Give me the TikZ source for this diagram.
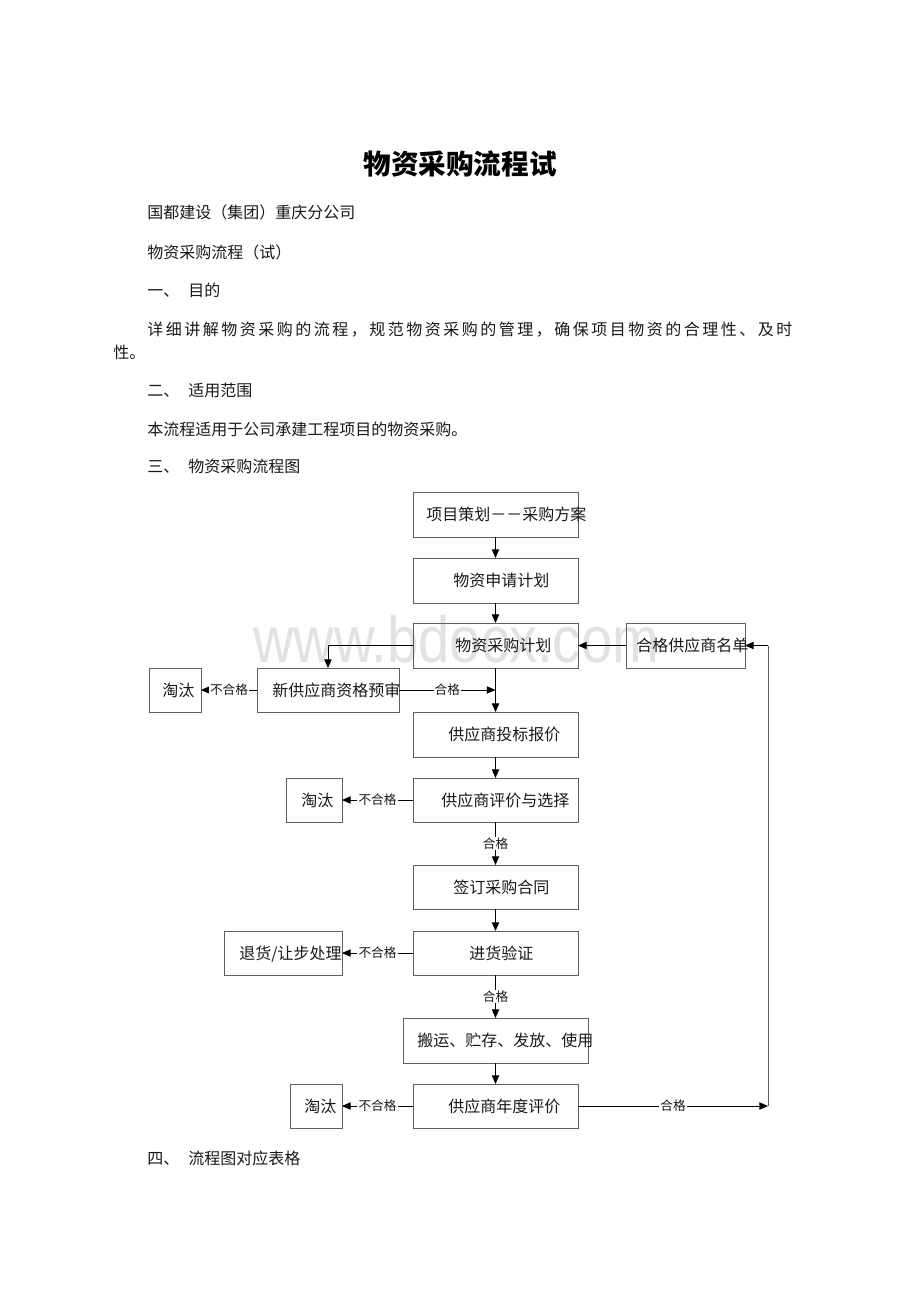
\documentclass[tikz,border=0pt]{standalone}
\usepackage{fontspec}
\setmainfont{Liberation Serif}
\newfontfamily\cjk{Noto Sans CJK SC}
\newfontfamily\wmfont{Liberation Sans}
\usetikzlibrary{arrows.meta}
\makeatletter
\def\spreadchars#1{\spr@a#1\spr@end}
\def\spr@end{\spr@end}
\def\spr@a#1{\ifx#1\spr@end\else#1\hskip0pt plus 1fil\expandafter\spr@a\fi}
\makeatother
\definecolor{boxline}{RGB}{95,95,95}
\definecolor{txt}{RGB}{25,25,25}
\definecolor{wm}{RGB}{226,226,226}
\tikzset{
  body/.style={anchor=base west, inner sep=0pt, text=txt, font=\cjk\fontsize{12pt}{14pt}\selectfont},
  btxt/.style={anchor=base west, inner sep=0pt, text=txt, font=\cjk\fontsize{12pt}{14pt}\selectfont},
  box/.style={draw=boxline, line width=0.7pt, inner sep=0pt, outer sep=0pt},
  bx/.style 2 args={box, minimum width=#1*0.75pt, minimum height=#2*0.75pt},
  conn/.style={draw=black, line width=0.7pt},
  arr/.style={conn, -{Triangle[length=6.5pt,width=5.5pt]}},
  lbl/.style={fill=white, inner sep=0.8pt, text=txt, font=\cjk\fontsize{9.5pt}{11pt}\selectfont}
}
\begin{document}
\begin{tikzpicture}[x=0.75pt,y=-0.75pt]
\fill[white] (0,0) rectangle (920,1302);
\useasboundingbox (0,0) rectangle (920,1302);

% watermark
\node[anchor=base west, inner sep=0pt, text=wm, xscale=0.86, font=\wmfont\fontsize{49pt}{50pt}\selectfont] (wmk) at (253,662) {www.bdocx.com};

% title and body text
\node[anchor=base, inner sep=0pt, text=black, font=\cjk\bfseries\fontsize{20.7pt}{24pt}\selectfont] (title) at (460,174.5) {物资采购流程试};
\node[body] (p1) at (147,219) {国都建设（集团）重庆分公司};
\node[body] (p2) at (147,258) {物资采购流程（试）};
\node[body] (p3) at (147,296) {一、\hspace{6.75pt}目的};
\node[body] (p4) at (147,335) {\hbox to 483.75pt{\spreadchars{详细讲解物资采购的流程，规范物资采购的管理，确保项目物资的合理性、及时}\unskip}};
\node[body] (p5) at (113,358) {性。};
\node[body] (p6) at (147,396) {二、\hspace{6.75pt}适用范围};
\node[body] (p7) at (147,435) {本流程适用于公司承建工程项目的物资采购。};
\node[body] (p8) at (147,472) {三、\hspace{6.75pt}物资采购流程图};
\node[body] (p9) at (147,1164) {四、\hspace{6.75pt}流程图对应表格};

% boxes
\node[bx={165}{45}] (A) at (495.5,514.5) {};
\node[bx={165}{45}] (B) at (495.5,580.5) {};
\node[bx={165}{45}] (C) at (495.5,645.5) {};
\node[bx={119}{45}] (D) at (685.5,645.5) {};
\node[bx={142}{44}] (E) at (328,690) {};
\node[bx={52}{44}]  (F) at (175,690) {};
\node[bx={165}{45}] (G) at (495.5,734.5) {};
\node[bx={165}{44}] (H) at (495.5,800) {};
\node[bx={56}{44}]  (I) at (314,800) {};
\node[bx={165}{44}] (J) at (495.5,887) {};
\node[bx={165}{44}] (K) at (495.5,953) {};
\node[bx={118}{44}] (L) at (283,953) {};
\node[bx={185}{45}] (M) at (495.5,1040.5) {};
\node[bx={165}{44}] (N) at (495.5,1106) {};
\node[bx={52}{44}]  (O) at (316,1106) {};

% box texts
\node[btxt] (At) at (426,520.5) {项目策划－－采购方案};
\node[btxt] (Bt) at (453,586.5) {物资申请计划};
\node[btxt] (Ct) at (455,651.5) {物资采购计划};
\node[btxt] (Dt) at (636,651.5) {合格供应商名单};
\node[btxt] (Et) at (272,696) {新供应商资格预审};
\node[btxt] (Ft) at (162,696) {淘汰};
\node[btxt] (Gt) at (448,740.5) {供应商投标报价};
\node[btxt] (Ht) at (441,806) {供应商评价与选择};
\node[btxt] (It) at (301,806) {淘汰};
\node[btxt] (Jt) at (453,893) {签订采购合同};
\node[btxt] (Kt) at (469,959) {进货验证};
\node[btxt] (Lt) at (239,959) {退货/让步处理};
\node[btxt] (Mt) at (417,1046.5) {搬运、贮存、发放、使用};
\node[btxt] (Nt) at (448,1112) {供应商年度评价};
\node[btxt] (Ot) at (304,1112) {淘汰};

% connectors
\draw[arr] (A) -- (B);
\draw[arr] (B) -- (C);
\draw[arr] (D.west) -- (C.east);
\draw[arr] (C.west) -| (E.north);
\draw[arr] (C) -- (G);
\coordinate (m1) at (C.south |- E.east);
\draw[arr] (E.east) -- node[lbl]{合格} (m1);
\draw[arr] (E.west) -- node[lbl]{不合格} (F.east);
\draw[arr] (G) -- (H);
\draw[arr] (H.west) -- node[lbl]{不合格} (I.east);
\draw[arr] (H) -- node[lbl]{合格} (J);
\draw[arr] (J) -- (K);
\draw[arr] (K.west) -- node[lbl]{不合格} (L.east);
\draw[arr] (K) -- node[lbl]{合格} (M);
\draw[arr] (M) -- (N);
\draw[arr] (N.west) -- node[lbl]{不合格} (O.east);
\coordinate (c1) at (768,1106);
\coordinate (c2) at (768,645.5);
\draw[arr] (N.east) -- node[lbl]{合格} (c1);
\draw[conn, line width=0.5pt, draw=boxline] (c1) -- (c2);
\draw[arr] (c2) -- (D.east);
\end{tikzpicture}
\end{document}
